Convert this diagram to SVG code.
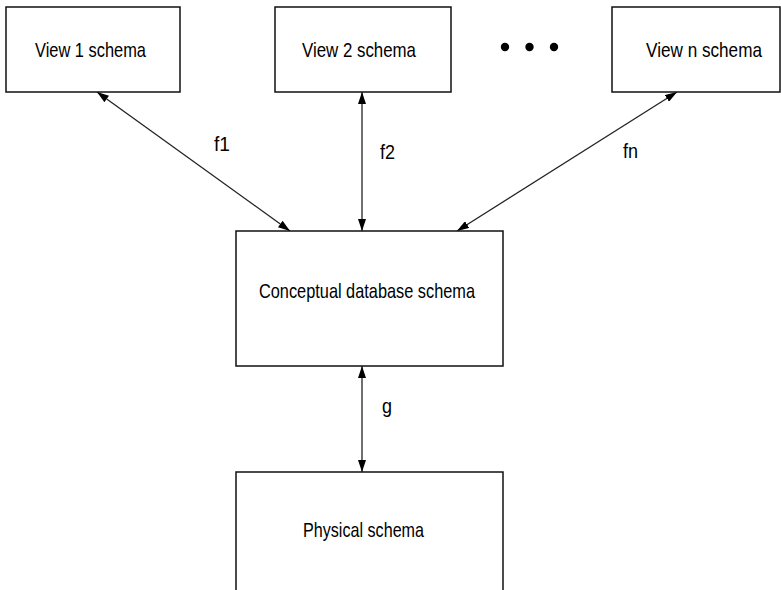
<svg xmlns="http://www.w3.org/2000/svg" width="781" height="590" viewBox="0 0 781 590">
  <defs>
    <marker id="arrow" viewBox="0 0 12 8" refX="12" refY="4" markerWidth="12" markerHeight="8" markerUnits="userSpaceOnUse" orient="auto-start-reverse">
      <path d="M0,0 L12,4 L0,8 Z" fill="#000"/>
    </marker>
  </defs>
  <style>
    .box { fill: #fff; stroke: #111; stroke-width: 1.5; }
    .name { font-family: "Liberation Sans", Arial, sans-serif; font-size: 21px; fill: #000; text-anchor: middle; }
    .lbl { font-family: "Liberation Sans", Arial, sans-serif; font-size: 21px; fill: #000; }
    .link { stroke: #222; stroke-width: 1.3; fill: none; marker-start: url(#arrow); marker-end: url(#arrow); }
  </style>
  <rect width="781" height="590" fill="#fff"/>

  <g id="connectors">
    <line class="link" x1="97" y1="92" x2="290" y2="231"/>
    <line class="link" x1="362" y1="92" x2="362" y2="231"/>
    <line class="link" x1="677" y1="92" x2="457" y2="231"/>
    <line class="link" x1="362" y1="366" x2="362" y2="472"/>
    <text class="lbl" x="214" y="151" textLength="16" lengthAdjust="spacingAndGlyphs">f1</text>
    <text class="lbl" x="380" y="159" textLength="15" lengthAdjust="spacingAndGlyphs">f2</text>
    <text class="lbl" x="623" y="158" textLength="15" lengthAdjust="spacingAndGlyphs">fn</text>
    <text class="lbl" x="382" y="413" textLength="10" lengthAdjust="spacingAndGlyphs">g</text>
  </g>

  <g id="view1">
    <rect class="box" x="6" y="7" width="174" height="85"/>
    <text class="name" x="90.5" y="57" textLength="111" lengthAdjust="spacingAndGlyphs">View 1 schema</text>
  </g>
  <g id="view2">
    <rect class="box" x="275" y="7" width="176" height="85"/>
    <text class="name" x="359" y="57" textLength="114" lengthAdjust="spacingAndGlyphs">View 2 schema</text>
  </g>
  <g id="ellipsis">
    <circle cx="505" cy="47" r="4.2" fill="#000"/>
    <circle cx="529.5" cy="47" r="4.2" fill="#000"/>
    <circle cx="554" cy="47" r="4.2" fill="#000"/>
  </g>
  <g id="viewN">
    <rect class="box" x="612" y="7" width="168" height="85"/>
    <text class="name" x="704" y="57" font-size="20" textLength="116" lengthAdjust="spacingAndGlyphs">View n schema</text>
  </g>
  <g id="conceptual">
    <rect class="box" x="236" y="231" width="267" height="135"/>
    <text class="name" x="367" y="298" textLength="216" lengthAdjust="spacingAndGlyphs">Conceptual database schema</text>
  </g>
  <g id="physical">
    <rect class="box" x="236" y="472" width="267" height="140"/>
    <text class="name" x="363.5" y="537" textLength="121" lengthAdjust="spacingAndGlyphs">Physical schema</text>
  </g>
</svg>
